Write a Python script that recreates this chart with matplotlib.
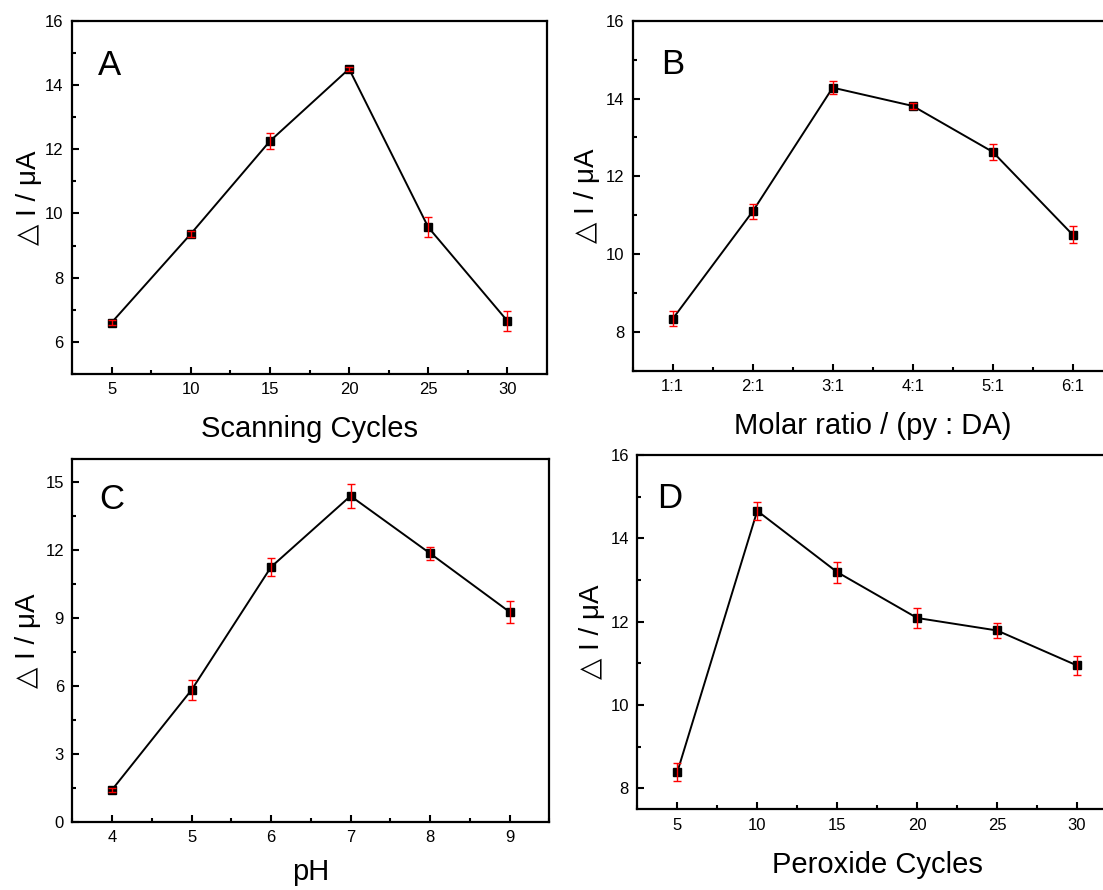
import matplotlib
matplotlib.use("Agg")
import matplotlib.pyplot as plt
from matplotlib.ticker import MultipleLocator

plt.rcParams["font.family"] = ["Liberation Sans", "DejaVu Sans"]

# panel A: scanning cycles
scan_cycles = [5, 10, 15, 20, 25, 30]
scan_di = [6.60, 9.36, 12.25, 14.50, 9.57, 6.65]
scan_err = [0.08, 0.10, 0.25, 0.06, 0.31, 0.31]

# panel B: molar ratio py:DA
ratio_labels = ["1:1", "2:1", "3:1", "4:1", "5:1", "6:1"]
ratio_pos = [1, 2, 3, 4, 5, 6]
ratio_di = [8.34, 11.10, 14.28, 13.81, 12.63, 10.50]
ratio_err = [0.19, 0.20, 0.17, 0.08, 0.20, 0.22]

# panel C: pH
ph = [4, 5, 6, 7, 8, 9]
ph_di = [1.42, 5.82, 11.24, 14.37, 11.84, 9.26]
ph_err = [0.10, 0.44, 0.38, 0.51, 0.29, 0.49]

# panel D: peroxide cycles
perox_cycles = [5, 10, 15, 20, 25, 30]
perox_di = [8.39, 14.66, 13.19, 12.09, 11.79, 10.95]
perox_err = [0.22, 0.21, 0.25, 0.25, 0.19, 0.22]

W, H = 1103, 890
fig = plt.figure(figsize=(W / 100, H / 100), dpi=100)


def make_axes(left, right, top, bottom):
    return fig.add_axes([left / W, 1 - bottom / H, (right - left) / W, (bottom - top) / H])


def panel(ax, x, y, err, letter, xlabel, xlim, ylim, ymaj, ymin, xmaj, xmin,
          letter_xy, ylab_x, xlab_y):
    ax.plot(x, y, "-", color="black", lw=1.4, marker="s", ms=5.5,
            mfc="black", mec="black", zorder=2, clip_on=False)
    ax.errorbar(x, y, yerr=err, fmt="none", ecolor="red", elinewidth=1.0,
                capsize=2.8, capthick=1.0, zorder=3, clip_on=False)
    ax.set_xlim(*xlim)
    ax.set_ylim(*ylim)
    ax.yaxis.set_major_locator(MultipleLocator(ymaj))
    ax.yaxis.set_minor_locator(MultipleLocator(ymin))
    ax.xaxis.set_major_locator(MultipleLocator(xmaj))
    ax.xaxis.set_minor_locator(MultipleLocator(xmin))
    ax.tick_params(which="both", direction="in", width=1.5, labelsize=12,
                   top=False, right=False, pad=6)
    ax.tick_params(which="major", length=5)
    ax.tick_params(which="minor", length=3)
    for s in ax.spines.values():
        s.set_linewidth(1.6)
    ax.text(letter_xy[0], letter_xy[1], letter, transform=ax.transAxes,
            fontsize=25, ha="left", va="baseline")
    ax.set_ylabel("\u25b3 I / \u03bcA", fontsize=20)
    ax.yaxis.set_label_coords(ylab_x, 0.5)
    ax.yaxis.label.set_va("center")
    ax.set_xlabel(xlabel, fontsize=21)
    ax.xaxis.set_label_coords(0.5, xlab_y)
    ax.xaxis.label.set_va("baseline")


axA = make_axes(72, 547, 20.7, 374)
panel(axA, scan_cycles, scan_di, scan_err, "A", "Scanning Cycles",
      (2.5, 32.5), (5, 16), 2, 1, 5, 2.5, (0.055, 0.846), -0.090, -0.178)

axB = make_axes(632.7, 1112.7, 20.7, 371)
panel(axB, ratio_pos, ratio_di, ratio_err, "B", "Molar ratio / (py : DA)",
      (0.5, 6.5), (7, 16), 2, 1, 1, 0.5, (0.059, 0.848), -0.095, -0.179)
axB.set_xticks(ratio_pos)
axB.set_xticklabels(ratio_labels)

axC = make_axes(72.3, 549.3, 459, 822)
panel(axC, ph, ph_di, ph_err, "C", "pH",
      (3.5, 9.5), (0, 16), 3, 1.5, 1, 0.5, (0.056, 0.862), -0.092, -0.160)

axD = make_axes(637.3, 1117, 455, 809.3)
panel(axD, perox_cycles, perox_di, perox_err, "D", "Peroxide Cycles",
      (2.5, 32.5), (7.5, 16), 2, 1, 5, 2.5, (0.041, 0.849), -0.095, -0.179)

fig.savefig("out.png", dpi=100)
